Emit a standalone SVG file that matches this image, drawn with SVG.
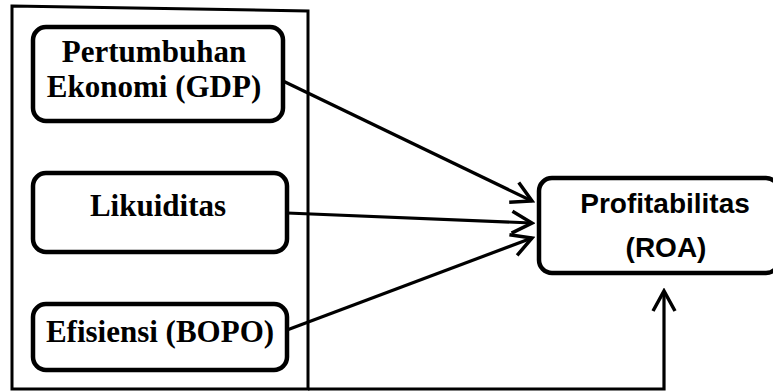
<svg xmlns="http://www.w3.org/2000/svg" width="773" height="392" viewBox="0 0 773 392">
<style>
.box{fill:#fff;stroke:#000;stroke-width:4.5}
.frame{fill:none;stroke:#000;stroke-width:3}
.ser{font-family:"Liberation Serif","Times New Roman",serif;font-weight:bold;font-size:31px;fill:#000;text-anchor:middle}
.san{font-family:"Liberation Sans",Arial,sans-serif;font-weight:bold;font-size:28px;fill:#000;text-anchor:middle}
.con{fill:none;stroke:#000;stroke-width:3.2}
</style>
<defs>
<marker id="ah" viewBox="0 0 26 26" refX="23" refY="13" markerWidth="26" markerHeight="26" markerUnits="userSpaceOnUse" orient="auto">
<path d="M3,2 L23,13 L3,24" fill="none" stroke="#000" stroke-width="3.5"/>
</marker>
</defs>
<path class="frame" d="M12,6 L308,11 L308,389 L12,389 Z"/>
<g id="gdp">
<rect class="box" x="33" y="27" width="250" height="94" rx="13"/>
<text class="ser" x="154" y="62">Pertumbuhan</text>
<text class="ser" x="154" y="97">Ekonomi (GDP)</text>
</g>
<g id="likuiditas">
<rect class="box" x="33" y="173" width="254" height="79" rx="13"/>
<text class="ser" x="158" y="216">Likuiditas</text>
</g>
<g id="efisiensi">
<rect class="box" x="33" y="304" width="254" height="66" rx="13"/>
<text class="ser" x="160" y="342">Efisiensi (BOPO)</text>
</g>
<g id="profitabilitas">
<rect class="box" x="539" y="178" width="240" height="95" rx="13"/>
<text class="san" x="665" y="213">Profitabilitas</text>
<text class="san" x="666" y="257">(ROA)</text>
</g>
<g id="connectors">
<line class="con" x1="283" y1="81" x2="532" y2="201" marker-end="url(#ah)"/>
<line class="con" x1="287" y1="213" x2="532" y2="223" marker-end="url(#ah)"/>
<line class="con" x1="287" y1="330" x2="532" y2="238" marker-end="url(#ah)"/>
<polyline class="con" points="308,389 664,389 664,291" marker-end="url(#ah)"/>
</g>
</svg>
